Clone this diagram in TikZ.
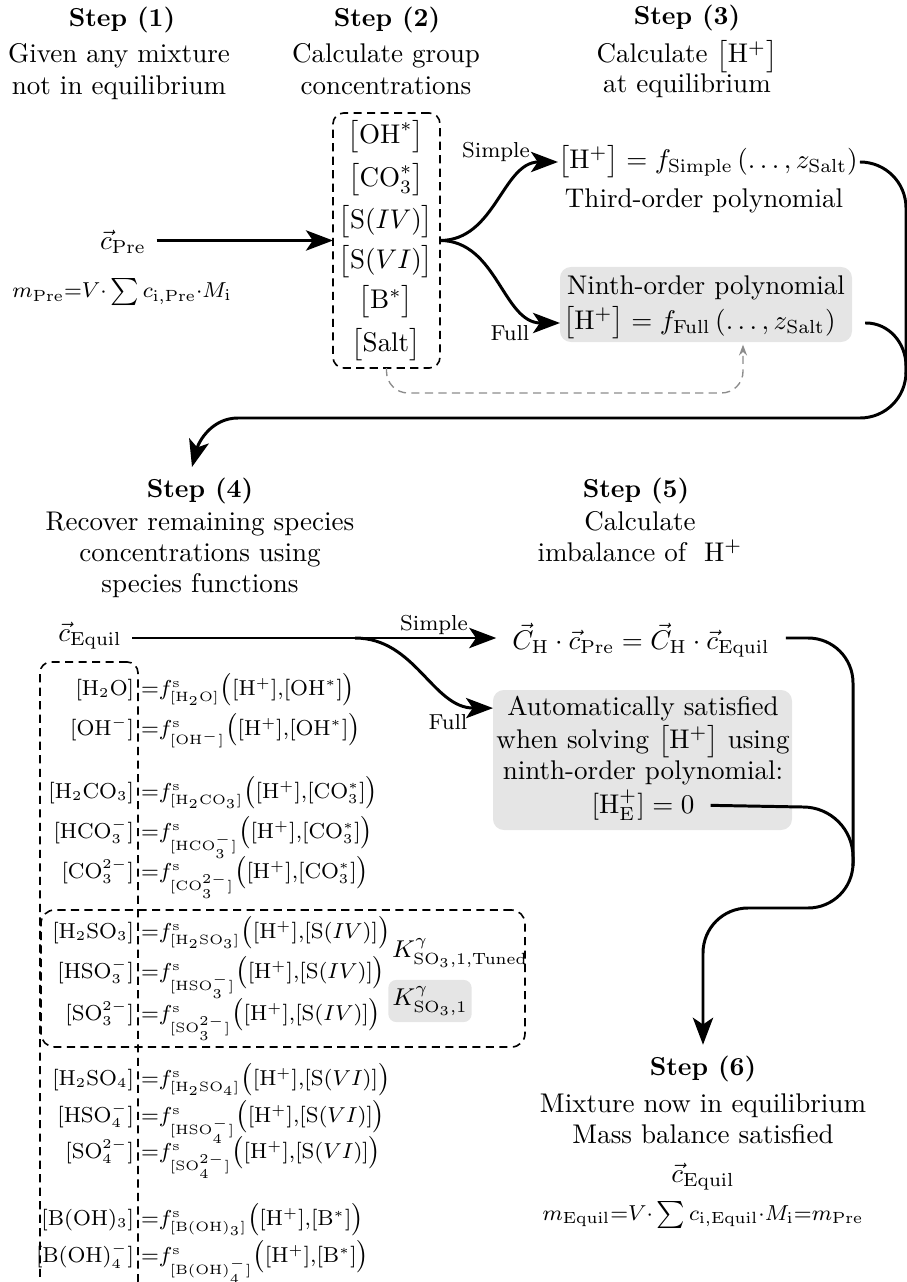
\documentclass[tikz,border=0pt]{standalone}
\usetikzlibrary{arrows.meta,fit,backgrounds}
\tikzset{
  every node/.style={inner sep=0pt, outer sep=0pt},
  lbl/.style={font=\footnotesize},
  arr/.style={line width=1.1pt, -{Stealth[length=10pt,width=7.5pt,inset=2.5pt]}},
  conn/.style={line width=1.1pt},
  dashbox/.style={draw, dash pattern=on 3pt off 2pt, rounded corners=4pt, line width=0.6pt},
  greybox/.style={fill=black!10, rounded corners=4pt},
  hd/.style={anchor=base, font=\fontsize{9.6}{11}\selectfont\bfseries},
  tx/.style={anchor=base},
  spl/.style={anchor=base east, font=\fontsize{7.8}{9}\selectfont},
  spr/.style={anchor=base west, font=\fontsize{7.8}{9}\selectfont},
  frm/.style={font=\fontsize{8}{9}\selectfont},
  graydash/.style={draw=black!45, dash pattern=on 3pt off 2pt, line width=0.5pt, -{Stealth[length=4pt,width=3pt]}},
}
\begin{document}
\begin{tikzpicture}[x=0.37pt,y=-0.37pt]
\useasboundingbox (0,0) rectangle (907,1282);

% ---------- headers ----------
\node[hd] (s1) at (122,27) {Step (1)};
\node[tx] (s1a) at (119,63) {Given any mixture};
\node[tx] (s1b) at (119,95) {not in equilibrium};
\node[hd] (s2) at (387,27) {Step (2)};
\node[tx] (s2a) at (386,63) {Calculate group};
\node[tx] (s2b) at (386,95) {concentrations};
\node[hd] (s3) at (687,25) {Step (3)};
\node[tx] (s3a) at (687,63) {Calculate $\bigl[\mathrm{H}^{+}\bigr]$};
\node[tx] (s3b) at (687,93) {at equilibrium};

% ---------- step 1 ----------
\node (cpre) at (123,242) {$\vec{c}_{\mathrm{Pre}}$};
\node[frm] (mpre) at (122,292) {$m_{\mathrm{Pre}}{=}V{\cdot}\sum c_{\mathrm{i,Pre}}{\cdot}M_{\mathrm{i}}$};

% ---------- step 2 ----------
\node (g1) at (386,137) {$\bigl[\mathrm{OH}^{*}\bigr]$};
\node (g2) at (386,180) {$\bigl[\mathrm{CO}_3^{*}\bigr]$};
\node (g3) at (386,222) {$\bigl[\mathrm{S}(IV)\bigr]$};
\node (g4) at (386,262) {$\bigl[\mathrm{S}(VI)\bigr]$};
\node (g5) at (386,302) {$\bigl[\mathrm{B}^{*}\bigr]$};
\node (g6) at (386,345) {$\bigl[\mathrm{Salt}\bigr]$};
\node[dashbox, fit={(333,113) (440,368)}] (grp) {};

\draw[arr] ([xshift=4pt]cpre.east |- grp.west) -- (grp.west);

% ---------- step 3 ----------
\node[anchor=west] (simp3) at (558,162) {$\bigl[\mathrm{H}^{+}\bigr] = f_{\mathrm{Simple}}\left(\ldots, z_{\mathrm{Salt}}\right)$};
\node[tx] (third) at (704,208) {Third-order polynomial};
\node[tx] (ninth) at (706,295) {Ninth-order polynomial};
\node[anchor=west] (full3) at (563,323) {$\bigl[\mathrm{H}^{+}\bigr] = f_{\mathrm{Full}}\left(\ldots, z_{\mathrm{Salt}}\right)$};
\begin{scope}[on background layer]
\node[greybox, fit={(560,267) (852,342)}] (fullbox3) {};
\end{scope}

\draw[arr] (grp.east) to[out=0,in=180] (simp3.west);
\draw[arr] (grp.east) to[out=0,in=180] (fullbox3.west |- full3.west);
\node[lbl] (ls3) at (496,152) {Simple};
\node[lbl] (lf3) at (510,333) {Full};

\coordinate (gt) at (743,393);
\draw[graydash, rounded corners=8pt] (grp.south) -- (grp.south |- gt) -- (gt) -- ([yshift=-1pt]gt |- fullbox3.south);

% big connector to step 4
\coordinate (s4tip) at (192,467);
\draw[arr] ([xshift=1pt]simp3.east) -- (860,162) to[out=0,in=90] (906,208) -- (906,372) to[out=-90,in=0] (860,418) -- (238,418) to[out=180,in=75] (s4tip);
\draw[conn] ([xshift=11pt]full3.east) -- (866,323) to[out=0,in=90] (906,366) -- (906,374);

% ---------- headers 4,5 ----------
\node[hd] (s4) at (200,497) {Step (4)};
\node[tx] (s4a) at (200,530) {Recover remaining species};
\node[tx] (s4b) at (200,561) {concentrations using};
\node[tx] (s4c) at (200,592) {species functions};
\node[hd] (s5) at (636,497) {Step (5)};
\node[tx] (s5a) at (640,530) {Calculate};
\node[tx] (s5b) at (640,561) {imbalance of ~$\mathrm{H}^{+}$};

% ---------- step 4 ----------
\node (cequ) at (90,636) {$\vec{c}_{\mathrm{Equil}}$};

\node[spl] (l1) at (134,695) {$[\mathrm{H_2O}]$};
\node[spr] (r1) at (141,695) {${=}f^{\mathrm{s}}_{[\mathrm{H_2O}]}\bigl([\mathrm{H}^{+}]{,}[\mathrm{OH}^{*}]\bigr)$};
\node[spl] (l2) at (134,735) {$[\mathrm{OH}^{-}]$};
\node[spr] (r2) at (141,735) {${=}f^{\mathrm{s}}_{[\mathrm{OH}^{-}]}\bigl([\mathrm{H}^{+}]{,}[\mathrm{OH}^{*}]\bigr)$};

\node[spl] (l3) at (134,798) {$[\mathrm{H_2CO_3}]$};
\node[spr] (r3) at (141,798) {${=}f^{\mathrm{s}}_{[\mathrm{H_2CO_3}]}\bigl([\mathrm{H}^{+}]{,}[\mathrm{CO}_3^{*}]\bigr)$};
\node[spl] (l4) at (134,838) {$[\mathrm{HCO}_3^{-}]$};
\node[spr] (r4) at (141,838) {${=}f^{\mathrm{s}}_{[\mathrm{HCO}_3^{-}]}\bigl([\mathrm{H}^{+}]{,}[\mathrm{CO}_3^{*}]\bigr)$};
\node[spl] (l5) at (134,878) {$[\mathrm{CO}_3^{2-}]$};
\node[spr] (r5) at (141,878) {${=}f^{\mathrm{s}}_{[\mathrm{CO}_3^{2-}]}\bigl([\mathrm{H}^{+}]{,}[\mathrm{CO}_3^{*}]\bigr)$};

\node[spl] (l6) at (134,938) {$[\mathrm{H_2SO_3}]$};
\node[spr] (r6) at (141,938) {${=}f^{\mathrm{s}}_{[\mathrm{H_2SO_3}]}\bigl([\mathrm{H}^{+}]{,}[\mathrm{S}(IV)]\bigr)$};
\node[spl] (l7) at (134,978) {$[\mathrm{HSO}_3^{-}]$};
\node[spr] (r7) at (141,978) {${=}f^{\mathrm{s}}_{[\mathrm{HSO}_3^{-}]}\bigl([\mathrm{H}^{+}]{,}[\mathrm{S}(IV)]\bigr)$};
\node[spl] (l8) at (134,1020) {$[\mathrm{SO}_3^{2-}]$};
\node[spr] (r8) at (141,1020) {${=}f^{\mathrm{s}}_{[\mathrm{SO}_3^{2-}]}\bigl([\mathrm{H}^{+}]{,}[\mathrm{S}(IV)]\bigr)$};

\node[spl] (l9) at (134,1085) {$[\mathrm{H_2SO_4}]$};
\node[spr] (r9) at (141,1085) {${=}f^{\mathrm{s}}_{[\mathrm{H_2SO_4}]}\bigl([\mathrm{H}^{+}]{,}[\mathrm{S}(VI)]\bigr)$};
\node[spl] (l10) at (134,1122) {$[\mathrm{HSO}_4^{-}]$};
\node[spr] (r10) at (141,1122) {${=}f^{\mathrm{s}}_{[\mathrm{HSO}_4^{-}]}\bigl([\mathrm{H}^{+}]{,}[\mathrm{S}(VI)]\bigr)$};
\node[spl] (l11) at (134,1158) {$[\mathrm{SO}_4^{2-}]$};
\node[spr] (r11) at (141,1158) {${=}f^{\mathrm{s}}_{[\mathrm{SO}_4^{2-}]}\bigl([\mathrm{H}^{+}]{,}[\mathrm{S}(VI)]\bigr)$};

\node[spl] (l12) at (134,1225) {$[\mathrm{B(OH)_3}]$};
\node[spr] (r12) at (141,1225) {${=}f^{\mathrm{s}}_{[\mathrm{B(OH)_3}]}\bigl([\mathrm{H}^{+}]{,}[\mathrm{B}^{*}]\bigr)$};
\node[spl] (l13) at (134,1262) {$[\mathrm{B(OH)}_4^{-}]$};
\node[spr] (r13) at (141,1262) {${=}f^{\mathrm{s}}_{[\mathrm{B(OH)}_4^{-}]}\bigl([\mathrm{H}^{+}]{,}[\mathrm{B}^{*}]\bigr)$};

\node[dashbox, fit={(40,662) (138,1292)}] (lbox) {};
\node[dashbox, rounded corners=5pt, fit={(41,910) (525,1047)}] (sbox) {};

\node[font=\small] (kt) at (460,953) {$K^{\gamma}_{\mathrm{SO_3},1,\mathrm{Tuned}}$};
\node[font=\small, fill=black!10, rounded corners=3pt, inner xsep=1.5pt, inner ysep=2.5pt] (k1) at (430,1001) {$K^{\gamma}_{\mathrm{SO_3},1}$};

% ---------- step 5 ----------
\node (simp5) at (641,640) {$\vec{C}_{\mathrm{H}}\cdot\vec{c}_{\mathrm{Pre}} = \vec{C}_{\mathrm{H}}\cdot\vec{c}_{\mathrm{Equil}}$};
\node[tx] (a1) at (643,715) {Automatically satisfied};
\node[tx] (a2) at (643,748) {when solving $\bigl[\mathrm{H}^{+}\bigr]$ using};
\node[tx] (a3) at (643,779) {ninth-order polynomial:};
\node[tx] (a4) at (643,813) {$[\mathrm{H}_{\mathrm{E}}^{+}] = 0$};
\begin{scope}[on background layer]
\node[greybox, fit={(493,690) (792,830)}] (fullbox5) {};
\end{scope}

\coordinate (b5) at (355,638);
\draw[arr] ([xshift=4pt]cequ.east |- b5) -- (b5) -- ([xshift=-6pt]simp5.west |- b5);
\draw[arr] (b5) to[out=0,in=180] (fullbox5.west |- a1.center);
\node[lbl] (ls5) at (434,625) {Simple};
\node[lbl] (lf5) at (448,722) {Full};

% ---------- step 6 ----------
\node[hd] (s6) at (703,1075) {Step (6)};
\node[tx] (s6a) at (703,1112) {Mixture now in equilibrium};
\node[tx] (s6b) at (703,1143) {Mass balance satisfied};
\node[tx] (cequ6) at (703,1182) {$\vec{c}_{\mathrm{Equil}}$};
\node[tx, frm] (mequ) at (703,1220) {$m_{\mathrm{Equil}}{=}V{\cdot}\sum c_{\mathrm{i,Equil}}{\cdot}M_{\mathrm{i}}{=}m_{\mathrm{Pre}}$};

\draw[arr] ([xshift=6pt]simp5.east |- b5) -- (808,638) to[out=0,in=90] (853,683) -- (853,863) to[out=-90,in=0] (808,908) -- (748,908) to[out=180,in=90] (703,953) -- ([yshift=4pt]s6.north);
\draw[conn] ([xshift=6pt]a4.east) -- (803,807) to[out=0,in=90] (853,857) -- (853,866);
\end{tikzpicture}
\end{document}
